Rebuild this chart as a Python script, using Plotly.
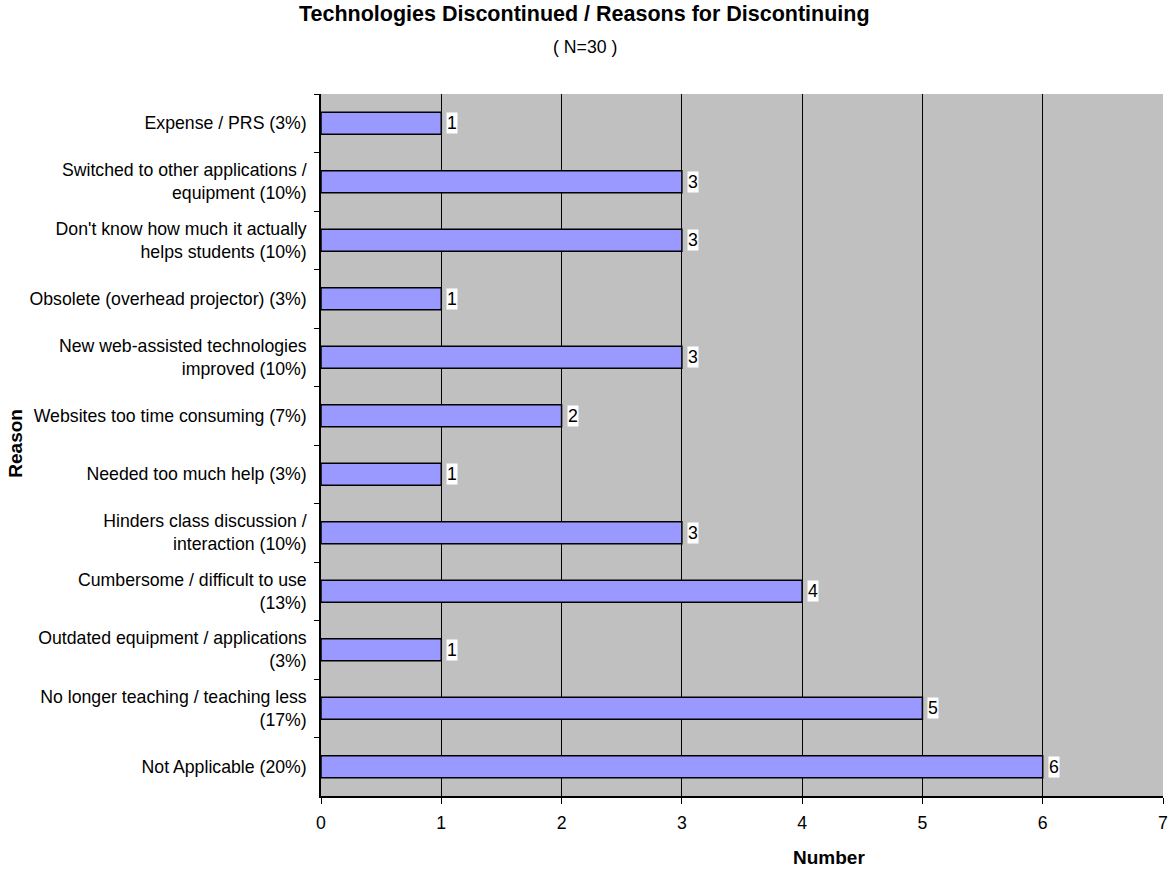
import plotly.graph_objects as go

# Reasons, listed top to bottom as they appear on the chart
reasons = [
    "Expense / PRS (3%)",
    "Switched to other applications /<br>equipment (10%)",
    "Don't know how much it actually<br>helps students (10%)",
    "Obsolete (overhead projector) (3%)",
    "New web-assisted technologies<br>improved (10%)",
    "Websites too time consuming (7%)",
    "Needed too much help (3%)",
    "Hinders class discussion /<br>interaction (10%)",
    "Cumbersome / difficult to use<br>(13%)",
    "Outdated equipment / applications<br>(3%)",
    "No longer teaching / teaching less<br>(17%)",
    "Not Applicable (20%)",
]
counts = [1, 3, 3, 1, 3, 2, 1, 3, 4, 1, 5, 6]
x_ticks = [0, 1, 2, 3, 4, 5, 6, 7]

font_family = "Liberation Sans, Arial, sans-serif"
label_size = 17.7

fig = go.Figure()
fig.add_trace(go.Bar(
    y=reasons,
    x=counts,
    orientation="h",
    width=0.38,
    marker=dict(color="#9999FF", line=dict(color="#000000", width=1.5)),
    hoverinfo="x+y",
))

# Value labels in white boxes just past the bar end
for r, c in zip(reasons, counts):
    fig.add_annotation(
        x=c, y=r, xref="x", yref="y",
        text=str(c), showarrow=False,
        xanchor="left", xshift=5,
        bgcolor="#FFFFFF", borderpad=0,
        font=dict(family=font_family, size=label_size, color="#000000"),
    )

# Titles (centred on the full figure width)
fig.add_annotation(
    x=0.3135, y=1.114, xref="paper", yref="paper", xanchor="center", yanchor="middle",
    text="<b>Technologies Discontinued / Reasons for Discontinuing</b>",
    showarrow=False,
    font=dict(family=font_family, size=21.5, color="#000000"),
)
fig.add_annotation(
    x=0.3135, y=1.067, xref="paper", yref="paper", xanchor="center", yanchor="middle",
    text="( N=30 )",
    showarrow=False,
    font=dict(family=font_family, size=label_size, color="#000000"),
)
fig.add_annotation(
    x=0.603, y=-0.088, xref="paper", yref="paper", xanchor="center", yanchor="middle",
    text="<b>Number</b>",
    showarrow=False,
    font=dict(family=font_family, size=19, color="#000000"),
)
fig.add_annotation(
    x=-0.3625, y=0.503, xref="paper", yref="paper", xanchor="center", yanchor="middle",
    text="<b>Reason</b>", textangle=-90,
    showarrow=False,
    font=dict(family=font_family, size=19, color="#000000"),
)

fig.update_layout(
    width=1173, height=871,
    margin=dict(l=321, r=5, t=94, b=75),
    paper_bgcolor="#FFFFFF",
    plot_bgcolor="#C0C0C0",
    showlegend=False,
    font=dict(family=font_family, size=label_size, color="#000000"),
    xaxis=dict(
        range=[0, 7],
        tickvals=x_ticks,
        ticks="outside", ticklen=6, tickcolor="#000000",
        showgrid=True, gridcolor="#000000", gridwidth=1,
        showline=True, linecolor="#000000", linewidth=1.5,
        zeroline=False,
        tickfont=dict(size=label_size),
        ticklabelstandoff=4,
    ),
    yaxis=dict(
        categoryorder="array", categoryarray=reasons,
        autorange="reversed",
        tickson="boundaries",
        ticks="outside", ticklen=5, tickcolor="#000000",
        showgrid=False,
        showline=True, linecolor="#000000", linewidth=1.5,
        tickfont=dict(size=label_size),
        ticklabelstandoff=9,
    ),
)

fig.write_html("out.html")
